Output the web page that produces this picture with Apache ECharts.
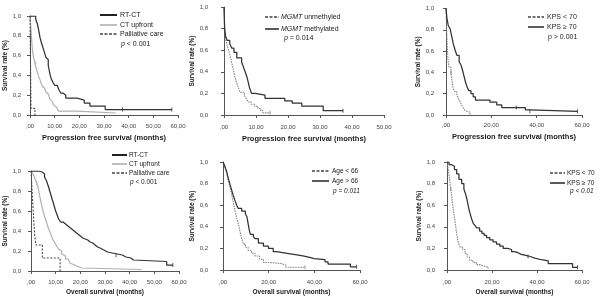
<!DOCTYPE html>
<html>
<head>
<meta charset="utf-8">
<script src="https://cdn.jsdelivr.net/npm/echarts@6/dist/echarts.min.js"></script>
<style>
  html, body { margin: 0; background: #fff; }
  #chart { width: 616px; height: 297px; }
</style>
</head>
<body>
<div id="chart"></div>
<script>
// Kaplan-Meier curves, [months, survival]
// top row: progression free survival
const pfsRtct = [[0,1],[2.3,0.97],[3,0.92],[3.5,0.86],[4,0.79],[4.5,0.74],[5,0.7],[5.5,0.66],[6,0.62],[6.5,0.58],[7,0.56],[7.4,0.5],[7.8,0.45],[8.2,0.4],[8.7,0.36],[9.3,0.33],[10,0.3],[11,0.28],[11.8,0.25],[12.5,0.22],[13.5,0.2],[14.5,0.17],[19,0.15],[22,0.12],[24.3,0.09],[30.5,0.055],[57.5,0.055]];
const pfsCt = [[0,1],[0.3,0.9],[0.6,0.78],[1,0.65],[1.5,0.58],[2,0.52],[2.5,0.47],[3,0.43],[3.5,0.39],[4,0.36],[4.5,0.32],[5,0.29],[5.5,0.27],[6,0.25],[6.5,0.23],[7,0.21],[7.5,0.19],[8,0.16],[8.5,0.14],[9,0.12],[9.5,0.1],[10,0.08],[10.7,0.06],[11.5,0.04],[19,0.02],[34.8,0.02]];
const pfsPall = [[0,1],[0.4,0.067],[2,0]];
const pfsMeth = [[0,1],[0.2,0.8],[0.5,0.73],[1,0.69],[1.8,0.66],[2.4,0.62],[3.1,0.58],[4,0.53],[5.5,0.49],[6,0.45],[6.6,0.4],[7.2,0.35],[7.6,0.3],[8,0.25],[8.6,0.2],[9.7,0.185],[12.8,0.155],[19,0.13],[21.3,0.11],[24.3,0.083],[31,0.04],[37.2,0.04]];
const pfsUnmeth = [[0,1],[0.2,0.8],[0.4,0.72],[0.8,0.67],[1.3,0.61],[1.8,0.56],[2.3,0.5],[2.8,0.43],[3.3,0.37],[3.8,0.31],[4.4,0.26],[5,0.21],[6.4,0.18],[7,0.15],[7.5,0.12],[8.5,0.1],[9.6,0.08],[10.6,0.06],[11.5,0.04],[12.2,0.02],[14.4,0.02]];
const pfsKpsHi = [[0,1],[0.4,0.91],[1,0.84],[1.8,0.81],[2.5,0.74],[3.2,0.67],[4,0.61],[4.8,0.56],[5.8,0.5],[6.6,0.47],[7.3,0.42],[8,0.36],[8.6,0.31],[9.2,0.27],[10,0.23],[11,0.2],[12,0.17],[13,0.14],[19.4,0.12],[22.4,0.095],[24.6,0.07],[35,0.047],[37,0.035],[58,0.035]];
const pfsKpsLo = [[0,1],[0.3,0.78],[0.6,0.62],[0.9,0.52],[1.3,0.45],[2.2,0.4],[2.6,0.33],[3.2,0.25],[3.8,0.22],[4.8,0.19],[5.6,0.15],[6.3,0.12],[7,0.09],[7.8,0.06],[8.5,0.04],[9.3,0.025],[10.6,0]];
// bottom row: overall survival
const osRtct = [[0,1],[3,0.99],[4.5,0.97],[5.5,0.94],[6.3,0.9],[7,0.85],[7.6,0.8],[8.2,0.75],[8.8,0.7],[9.4,0.65],[10,0.6],[10.6,0.56],[11.2,0.52],[12,0.49],[13,0.47],[14,0.45],[15,0.43],[16,0.41],[17,0.39],[18,0.37],[19,0.35],[20,0.33],[21,0.32],[22,0.31],[23,0.29],[24,0.28],[25,0.26],[26,0.24],[27,0.23],[28,0.21],[29.5,0.19],[31,0.18],[33,0.17],[35,0.16],[37,0.14],[38.5,0.13],[40.5,0.11],[41.5,0.095],[55,0.06],[57.5,0.06]];
const osCt = [[0,1],[0.8,0.97],[1.5,0.93],[2.3,0.88],[3,0.82],[3.6,0.74],[4.3,0.66],[5,0.59],[5.7,0.53],[6.4,0.48],[7,0.43],[7.7,0.39],[8.4,0.34],[9,0.31],[9.7,0.28],[10.4,0.25],[11.1,0.22],[11.8,0.2],[12.4,0.17],[13.1,0.15],[14,0.12],[15,0.1],[15.8,0.08],[16.5,0.065],[17.2,0.05],[18.5,0.03],[20.5,0.015],[44.9,0.015]];
const osPall = [[0,1],[0.3,0.87],[0.6,0.73],[0.9,0.6],[1.2,0.47],[1.5,0.36],[2,0.26],[4.6,0.13],[11.8,0]];
const osAgeHi = [[0,1],[0.8,0.96],[1.6,0.91],[2.3,0.85],[3.1,0.79],[3.8,0.74],[4.5,0.69],[5.3,0.64],[6,0.6],[6.7,0.57],[8.2,0.545],[9.8,0.52],[10.5,0.49],[11,0.43],[11.5,0.37],[12,0.33],[13.3,0.31],[14,0.29],[15.5,0.25],[17.7,0.22],[19.9,0.2],[22,0.17],[23.5,0.155],[28,0.145],[31,0.13],[35,0.12],[37.5,0.105],[40,0.095],[44.7,0.075],[46,0.055],[55.8,0.03],[58.5,0.03]];
const osAgeLo = [[0,1],[0.8,0.96],[1.6,0.9],[2.3,0.83],[3.1,0.77],[3.8,0.7],[4.5,0.62],[5.3,0.55],[6,0.48],[6.7,0.43],[7.4,0.36],[8.2,0.29],[8.9,0.24],[9.8,0.21],[11,0.18],[12.5,0.155],[14,0.13],[16,0.1],[17.7,0.07],[20,0.06],[25.5,0.045],[27.5,0.025],[35.9,0.025]];
const osKpsHi = [[0,1],[0.9,0.975],[2.1,0.96],[3.3,0.93],[4.3,0.89],[5.3,0.84],[6.5,0.8],[7.5,0.75],[8.3,0.7],[8.8,0.66],[9.3,0.61],[9.8,0.56],[10.3,0.52],[11,0.47],[11.7,0.43],[12.5,0.41],[13.2,0.39],[14.5,0.36],[15.5,0.34],[16.5,0.32],[17.6,0.3],[19,0.28],[20.5,0.26],[22,0.24],[23.5,0.22],[25,0.2],[27,0.19],[28.7,0.17],[30,0.16],[31.5,0.145],[33,0.135],[35,0.125],[37,0.11],[39,0.095],[42,0.085],[45,0.06],[55.8,0.025],[58,0.025]];
const osKpsLo = [[0,1],[0.4,0.95],[0.8,0.9],[1.2,0.83],[1.7,0.75],[2.2,0.66],[2.7,0.57],[3.2,0.5],[3.7,0.43],[4.2,0.35],[4.7,0.28],[5.2,0.24],[6,0.21],[7,0.19],[8,0.15],[9,0.12],[10,0.09],[11.5,0.07],[13,0.05],[14.5,0.04],[16,0.025],[18.3,0.012]];

// censored cases (small ticks on the curves)
const censDark = [
  [[37.5,0.055],[57.5,0.055]], [[37.2,0.04]], [[31,0.07],[37,0.035],[58,0.035]],
  [[34.5,0.16],[57.5,0.06]], [[58.5,0.03]], [[36,0.125],[58,0.025]]
];
const censGrey = [
  [[2.3,0.52]], [[14.4,0.02]], [[2.2,0.4]],
  [[2.3,0.88]], [[35.9,0.025]], [[1.7,0.75]]
];

const pfsTitle = 'Progression free survival (months)';
const osTitle = 'Overall survival (months)';
const yTitle = 'Survival rate (%)';

const lineStyles = {
  dark:  { color: '#333', width: 1.25 },
  light: { color: '#b0b0b0', width: 1.2 },
  dash:  { color: '#4a4a4a', width: 1.1, type: [2, 1.5] },
  dot:   { color: '#808080', width: 1.1, type: [1.5, 1] }
};

// layout of the six panels
const panels = [
  { left: 30,  top: 16,  width: 148, height: 99,  xMax: 60, xStep: 10, yOff: 5,  xOff: 5, name: pfsTitle, big: true,
    curves: [[pfsRtct, 'dark'], [pfsCt, 'light'], [pfsPall, 'dash']] },
  { left: 224, top: 7,   width: 160, height: 108, xMax: 50, xStep: 10, yOff: 12, xOff: 6, name: pfsTitle, big: true,
    curves: [[pfsMeth, 'dark'], [pfsUnmeth, 'dot']] },
  { left: 446, top: 8.5, width: 136, height: 106.5, xMax: 60, xStep: 20, yOff: 8, xOff: 4, name: pfsTitle, big: true,
    curves: [[pfsKpsHi, 'dark'], [pfsKpsLo, 'dot']] },
  { left: 31,  top: 171, width: 148, height: 100, xMax: 60, xStep: 10, yOff: 6,  xOff: 5, name: osTitle, big: false,
    curves: [[osRtct, 'dark'], [osCt, 'light'], [osPall, 'dash']] },
  { left: 223, top: 162, width: 137, height: 108, xMax: 60, xStep: 20, yOff: 11, xOff: 6, name: osTitle, big: false,
    curves: [[osAgeHi, 'dark'], [osAgeLo, 'dot']] },
  { left: 447, top: 162, width: 135, height: 108, xMax: 60, xStep: 20, yOff: 8,  xOff: 6, name: osTitle, big: false,
    curves: [[osKpsHi, 'dark'], [osKpsLo, 'dot']] }
];

const axisLine = { lineStyle: { color: '#555', width: 1 } };
const axisTick = { length: 3, lineStyle: { color: '#555' } };
const labelStyle = { color: '#444', fontSize: 6, fontFamily: 'Liberation Sans' };

const grid = [], xAxis = [], yAxis = [], series = [];
panels.forEach((p, i) => {
  grid.push({ left: p.left, top: p.top, width: p.width, height: p.height });
  xAxis.push({
    gridIndex: i, type: 'value', min: 0, max: p.xMax, interval: p.xStep, offset: p.xOff,
    axisLine, axisTick, splitLine: { show: false },
    axisLabel: { ...labelStyle, margin: 3, formatter: v => (v === 0 ? '' : v) + ',00' },
    name: p.name, nameLocation: 'middle', nameGap: p.big ? 14 : 13,
    nameTextStyle: { color: '#1a1a1a', fontWeight: 'bold', fontSize: p.big ? 7.5 : 6.5, fontFamily: 'Liberation Sans' }
  });
  yAxis.push({
    gridIndex: i, type: 'value', min: 0, max: 1, interval: 0.2, offset: p.yOff,
    axisLine: { show: true, ...axisLine }, axisTick, splitLine: { show: false },
    axisLabel: { ...labelStyle, margin: 4, formatter: v => v.toFixed(1).replace('.', ',') },
    name: yTitle, nameLocation: 'middle', nameRotate: 90, nameGap: 16,
    nameTextStyle: { color: '#1a1a1a', fontWeight: 'bold', fontSize: 6.5, fontFamily: 'Liberation Sans' }
  });
  p.curves.forEach(([data, kind]) => {
    series.push({
      type: 'line', xAxisIndex: i, yAxisIndex: i, data, step: 'end',
      showSymbol: false, silent: true, lineStyle: lineStyles[kind], z: kind === 'dark' ? 3 : 2
    });
  });
  [[censDark[i], '#333'], [censGrey[i], p.curves[1][1] === 'light' ? '#b0b0b0' : '#808080']].forEach(([data, color]) => {
    series.push({
      type: 'scatter', xAxisIndex: i, yAxisIndex: i, data, symbol: 'rect',
      symbolSize: [1, 4], itemStyle: { color }, silent: true, z: 4
    });
  });
});

// legends drawn as small line swatches + text
const swatch = {
  bold:  { stroke: '#222', lineWidth: 2 },
  light: { stroke: '#b0b0b0', lineWidth: 1.6 },
  dash:  { stroke: '#444', lineWidth: 1.4, lineDash: [3, 1.5] },
  solid: { stroke: '#333', lineWidth: 1.6 }
};
const rich = fs => ({
  i: { fontStyle: 'italic', fontSize: fs, fill: '#222', fontFamily: 'Liberation Sans' }
});
const legends = [
  { x1: 100, x2: 117, tx: 120, fs: 7, rows: [[15, 'bold', 'RT-CT'], [25, 'light', 'CT upfront'], [34, 'dash', 'Palliative care']], p: [121, 44, '{i|p} < 0.001'] },
  { x1: 265, x2: 279, tx: 281, fs: 7, rows: [[17, 'dash', '{i|MGMT} unmethyled'], [29, 'solid', '{i|MGMT} methylated']], p: [284, 38, '{i|p} = 0.014'] },
  { x1: 528, x2: 544, tx: 547, fs: 7, rows: [[17, 'dash', 'KPS < 70'], [27, 'solid', 'KPS ≥ 70']], p: [548, 37, 'p > 0.001'] },
  { x1: 112, x2: 127, tx: 129, fs: 6.5, rows: [[155, 'bold', 'RT-CT'], [164, 'light', 'CT upfront'], [173, 'dash', 'Palliative care']], p: [130, 182, '{i|p} < 0.001'] },
  { x1: 312, x2: 329, tx: 332, fs: 6.5, rows: [[171, 'dash', 'Age < 66'], [181, 'solid', 'Age > 66']], p: [333, 191, '{i|p = 0.011}'] },
  { x1: 550, x2: 565, tx: 567, fs: 6.5, rows: [[173, 'dash', 'KPS < 70'], [183, 'solid', 'KPS ≥ 70']], p: [570, 191, '{i|p < 0.01}'] }
];
const graphic = [];
legends.forEach(l => {
  l.rows.forEach(([y, sw, label]) => {
    graphic.push({ type: 'line', silent: true, shape: { x1: l.x1, y1: y, x2: l.x2, y2: y }, style: swatch[sw] });
    graphic.push({ type: 'text', silent: true, x: l.tx, y: y, style: {
      text: label, fontSize: l.fs, fill: '#222', fontFamily: 'Liberation Sans',
      verticalAlign: 'middle', rich: rich(l.fs) } });
  });
  graphic.push({ type: 'text', silent: true, x: l.p[0], y: l.p[1], style: {
    text: l.p[2], fontSize: l.fs, fill: '#222', fontFamily: 'Liberation Sans',
    verticalAlign: 'middle', rich: rich(l.fs) } });
});

const chart = echarts.init(document.getElementById('chart'), null, { renderer: 'canvas' });
chart.setOption({
  animation: false,
  backgroundColor: '#fff',
  grid, xAxis, yAxis, series, graphic
});
</script>
</body>
</html>
